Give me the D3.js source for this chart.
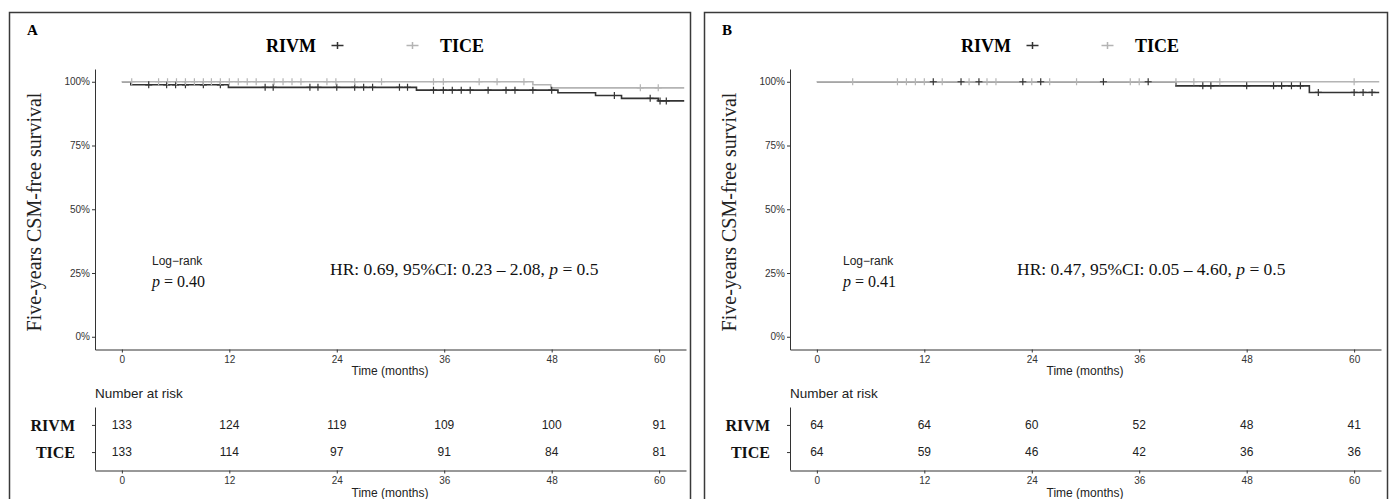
<!DOCTYPE html>
<html><head><meta charset="utf-8">
<script src="https://cdn.jsdelivr.net/npm/d3@7/dist/d3.min.js"></script>
<style>body{margin:0;background:#fff}</style>
</head><body><svg id="c" width="1390" height="499"></svg>
<script>
// ---- data ----
const timeTicks = [0, 12, 24, 36, 48, 60];
const survTicks = [0, 0.25, 0.5, 0.75, 1];
const survTickLabels = ["0%", "25%", "50%", "75%", "100%"];
const groups = ["RIVM", "TICE"];
const groupColors = ["#333333", "#b4b4b4"];

// Panel A
const aRivmStepTimes = [0, 1.0, 11.9, 32.9, 48.7, 52.9, 55.8, 59.9];
const aRivmStepSurv  = [1, 0.988, 0.978, 0.967, 0.957, 0.946, 0.935, 0.925];
const aRivmCensor = [3.0, 5.0, 6.0, 7.1, 9.1, 11.0, 16.0, 16.9, 21.0, 21.9, 24.0, 26.0, 27.0, 28.0, 31.0, 31.9,
  34.8, 35.9, 36.9, 37.9, 38.9, 40.9, 42.9, 43.9, 45.9, 48.0, 55.0, 59.0, 60.1, 60.8];
const aTiceStepTimes = [0, 45.9, 47.9];
const aTiceStepSurv  = [1, 0.988, 0.976];
const aTiceCensor = [1.1, 4.1, 5.1, 6.1, 7.1, 8.1, 9.1, 10.0, 11.0, 12.0, 13.0, 14.0, 15.0, 17.0, 18.0, 19.0, 20.0,
  22.9, 23.9, 26.0, 29.0, 34.8, 35.9, 39.9, 41.9, 44.9, 57.9, 59.9];
const aRiskRivm = [133, 124, 119, 109, 100, 91];
const aRiskTice = [133, 114, 97, 91, 84, 81];
const aLogrank = "0.40";
const aHR = ["0.69", "0.23", "2.08", "0.5"];

// Panel B
const bRivmStepTimes = [0, 40.1, 55.0];
const bRivmStepSurv  = [1, 0.984, 0.958];
const bRivmCensor = [13.0, 16.1, 18.1, 23.0, 25.0, 32.0, 37.0, 43.1, 44.0, 48.0, 51.0, 51.9, 53.0, 54.0,
  56.0, 60.0, 61.0, 62.0];
const bTiceStepTimes = [0];
const bTiceStepSurv  = [1];
const bTiceCensor = [4.0, 9.0, 10.0, 11.0, 12.0, 14.0, 17.0, 19.0, 20.0, 24.0, 26.0, 29.0, 35.0, 36.0,
  40.1, 42.1, 45.0, 60.0];
const bRiskRivm = [64, 64, 60, 52, 48, 41];
const bRiskTice = [64, 59, 46, 42, 36, 36];
const bLogrank = "0.41";
const bHR = ["0.47", "0.05", "4.60", "0.5"];

const curveEnd = 62.8;
const timeDomain = [-3, 63];
const survDomain = [-0.05, 1.05];

// ---- drawing ----
const svg = d3.select("#c");
const SANS = "'Liberation Sans', Arial, sans-serif";
const SERIF = "'Liberation Serif', 'Times New Roman', serif";
const AX = "#333";

function panel(cfg) {
  const ox = cfg.ox;
  const g = svg.append("g");
  g.append("rect").attr("x", cfg.bx).attr("y", 12.5).attr("width", cfg.bw).attr("height", 500)
    .attr("fill", "none").attr("stroke", "#3a3a3a").attr("stroke-width", 1.5);

  const x = d3.scaleLinear().domain(timeDomain).range([ox + 95, ox + 686]);
  const y = d3.scaleLinear().domain(survDomain).range([349.5, 69]);

  g.append("text").attr("x", ox + 27).attr("y", 35).text(cfg.letter)
    .attr("font-family", SERIF).attr("font-weight", "bold").attr("font-size", 15);

  // legend
  const lg = g.append("g");
  lg.append("text").attr("x", ox + 316).attr("y", 52).attr("text-anchor", "end").text(groups[0])
    .attr("font-family", SERIF).attr("font-weight", "bold").attr("font-size", 18);
  lg.append("text").attr("x", ox + 440).attr("y", 52).attr("text-anchor", "start").text(groups[1])
    .attr("font-family", SERIF).attr("font-weight", "bold").attr("font-size", 18);
  [ox + 337.5, ox + 412.5].forEach((kx, i) => {
    lg.append("path").attr("d", `M${kx - 6},45.5H${kx + 6}M${kx},42V49`)
      .attr("stroke", groupColors[i]).attr("stroke-width", 1.5).attr("fill", "none");
  });

  // axes
  const ya = g.append("g").attr("transform", `translate(${ox + 95},0)`)
    .call(d3.axisLeft(y).tickValues(survTicks).tickFormat((d, i) => survTickLabels[i]).tickSize(3).tickSizeOuter(0).tickPadding(2));
  const xa = g.append("g").attr("transform", `translate(0,349.5)`)
    .call(d3.axisBottom(x).tickValues(timeTicks).tickSize(3).tickSizeOuter(0).tickPadding(3));
  [ya, xa].forEach(a => {
    a.selectAll("path,line").attr("stroke", AX).attr("stroke-width", 1);
    a.selectAll("text").attr("font-family", SANS).attr("font-size", 10).attr("fill", "#333");
  });
  g.append("text").attr("x", ox + 390).attr("y", 375).attr("text-anchor", "middle").text("Time (months)")
    .attr("font-family", SANS).attr("font-size", 12).attr("fill", "#222");

  g.append("text").attr("transform", `translate(${ox + 41},212) rotate(-90)`).attr("text-anchor", "middle")
    .text("Five-years CSM-free survival").attr("font-family", SERIF).attr("font-size", 20).attr("fill", "#222");

  // curves
  const line = d3.line().x(d => x(d[0])).y(d => y(d[1])).curve(d3.curveStepAfter);
  const series = [
    { t: cfg.rivmT, s: cfg.rivmS, c: cfg.rivmC, col: groupColors[0] },
    { t: cfg.ticeT, s: cfg.ticeS, c: cfg.ticeC, col: groupColors[1] }
  ];
  series.forEach(sr => {
    const pts = sr.t.map((t, i) => [t, sr.s[i]]);
    pts.push([curveEnd, sr.s[sr.s.length - 1]]);
    g.append("path").attr("d", line(pts)).attr("fill", "none").attr("stroke", sr.col).attr("stroke-width", 1.6);
  });
  series.forEach(sr => {
    sr.c.forEach(t => {
      const idx = d3.bisectRight(sr.t, t) - 1;
      const cx = x(t), cy = y(sr.s[idx]);
      g.append("path").attr("d", `M${cx - 3.5},${cy}H${cx + 3.5}M${cx},${cy - 3.5}V${cy + 3.5}`)
        .attr("stroke", sr.col).attr("stroke-width", 1.2).attr("fill", "none");
    });
  });

  // annotations
  g.append("text").attr("x", ox + cfg.lrx).attr("y", 265).text("Log\u2212rank")
    .attr("font-family", SANS).attr("font-size", 12).attr("fill", "#222");
  const pt = g.append("text").attr("x", ox + cfg.lrx).attr("y", 287)
    .attr("font-family", SERIF).attr("font-size", 16).attr("fill", "#111");
  pt.append("tspan").attr("font-style", "italic").text("p");
  pt.append("tspan").text(" = " + cfg.lr);
  const hr = g.append("text").attr("x", ox + cfg.hrx).attr("y", 275)
    .attr("font-family", SERIF).attr("font-size", 17.5).attr("fill", "#111");
  hr.append("tspan").text(`HR: ${cfg.hr[0]}, 95%CI: ${cfg.hr[1]} \u2013 ${cfg.hr[2]}, `);
  hr.append("tspan").attr("font-style", "italic").text("p");
  hr.append("tspan").text(` = ${cfg.hr[3]}`);

  // risk table
  g.append("text").attr("x", ox + 95).attr("y", 398).text("Number at risk")
    .attr("font-family", SANS).attr("font-size", 13.5).attr("fill", "#222");
  const ry = d3.scalePoint().domain(groups).range([407, 470]).padding(0.66);
  const rya = g.append("g").attr("transform", `translate(${ox + 95},0)`)
    .call(d3.axisLeft(ry).tickSize(3).tickSizeOuter(0).tickPadding(17));
  const rxa = g.append("g").attr("transform", `translate(0,470.5)`)
    .call(d3.axisBottom(x).tickValues(timeTicks).tickSize(3).tickSizeOuter(0).tickPadding(3));
  [rya, rxa].forEach(a => a.selectAll("path,line").attr("stroke", AX).attr("stroke-width", 1));
  rya.selectAll("text").attr("font-family", SERIF).attr("font-weight", "bold").attr("font-size", 16).attr("fill", "#111");
  rxa.selectAll("text").attr("font-family", SANS).attr("font-size", 10).attr("fill", "#333");
  g.append("text").attr("x", ox + 390).attr("y", 497).attr("text-anchor", "middle").text("Time (months)")
    .attr("font-family", SANS).attr("font-size", 12).attr("fill", "#222");
  [cfg.riskR, cfg.riskT].forEach((row, gi) => {
    row.forEach((v, i) => {
      g.append("text").attr("x", x(timeTicks[i])).attr("y", ry(groups[gi])).attr("dy", "0.35em")
        .attr("text-anchor", "middle").text(v).attr("font-family", SANS).attr("font-size", 12).attr("fill", "#222");
    });
  });
}

panel({ ox: 0, bx: 9.5, bw: 681, letter: "A",
  rivmT: aRivmStepTimes, rivmS: aRivmStepSurv, rivmC: aRivmCensor,
  ticeT: aTiceStepTimes, ticeS: aTiceStepSurv, ticeC: aTiceCensor,
  riskR: aRiskRivm, riskT: aRiskTice, lr: aLogrank, hr: aHR, lrx: 152, hrx: 330 });
panel({ ox: 695, bx: 704.5, bw: 683, letter: "B",
  rivmT: bRivmStepTimes, rivmS: bRivmStepSurv, rivmC: bRivmCensor,
  ticeT: bTiceStepTimes, ticeS: bTiceStepSurv, ticeC: bTiceCensor,
  riskR: bRiskRivm, riskT: bRiskTice, lr: bLogrank, hr: bHR, lrx: 148, hrx: 322 });
</script></body></html>
